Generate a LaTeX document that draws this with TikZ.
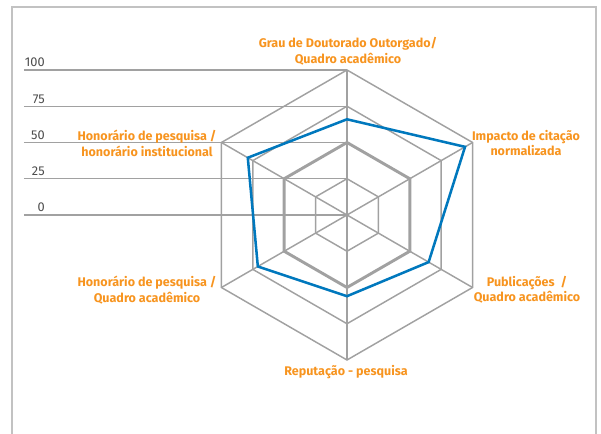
\documentclass[tikz,border=0pt]{standalone}
\usepackage{fontspec}
\setmainfont{Fira Sans}
\usetikzlibrary{calc}
\begin{document}
\begin{tikzpicture}[x=0.75pt,y=0.75pt]
  \definecolor{grid} {rgb}{0.63,0.63,0.63};
  \definecolor{frame}{rgb}{0.76,0.76,0.76};
  \definecolor{score}{rgb}{0,0.47,0.74};
  \definecolor{axis} {rgb}{0.97,0.58,0.12};
  \tikzstyle{ring}=[draw=grid,line width=1.1pt,line join=miter]
  \tikzstyle{axislabel}=[text=axis,font=\fontsize{9.4}{11.6}\selectfont\bfseries,align=center,inner sep=0pt]
  \tikzstyle{tick}=[text=black!70,font=\fontsize{9.6}{10}\selectfont,anchor=base east,inner sep=0pt]
  \useasboundingbox (-347,-219) rectangle (254,215);
  \draw[draw=frame,line width=1.1pt] (-335,-219) -- (-335,208) -- (249,208) -- (249,-219);
  % scale
  \foreach \v in {0,25,50,75,100} {
    \draw[ring] (-323,1.45*\v) -- (0,1.45*\v);
    \node (tick\v) at (-302,1.45*\v+3) [tick] {\v};
  }
  \foreach \v in {25,75,100}
    \draw[ring] (90:1.45*\v) \foreach \a in {30,-30,-90,-150,150} {-- (\a:1.45*\v)} -- cycle;
  \draw[ring,line width=2.2pt] (90:72.5) \foreach \a in {30,-30,-90,-150,150} {-- (\a:72.5)} -- cycle;
  \foreach \a in {90,30,-30,-90,-150,150}
    \draw[ring] (0,0) -- (\a:145);
  % scores
  \draw[score,line width=1.9pt,line join=miter]
    (90:1.45*66) -- (30:1.45*94) -- (-30:1.45*65) -- (-90:1.45*56)
    -- (-150:1.45*71) -- (150:1.45*79) -- cycle;
  \node (grau) at (1,163.5)    [axislabel] {Grau de Doutorado Outorgado/\\Quadro acadêmico};
  \node (cit)  at (179,72)     [axislabel] {Impacto de citação\\normalizada};
  \node (pub)  at (180,-75)    [axislabel] {Publicações\ \ /\\Quadro acadêmico};
  \node (rep)  at (-1,-157)    [axislabel] {Reputação - pesquisa};
  \node (hq)   at (-200,-75)   [axislabel] {Honorário de pesquisa /\\Quadro acadêmico};
  \node (hi)   at (-200,71.5)  [axislabel] {Honorário de pesquisa /\\honorário institucional};
\end{tikzpicture}
\end{document}
